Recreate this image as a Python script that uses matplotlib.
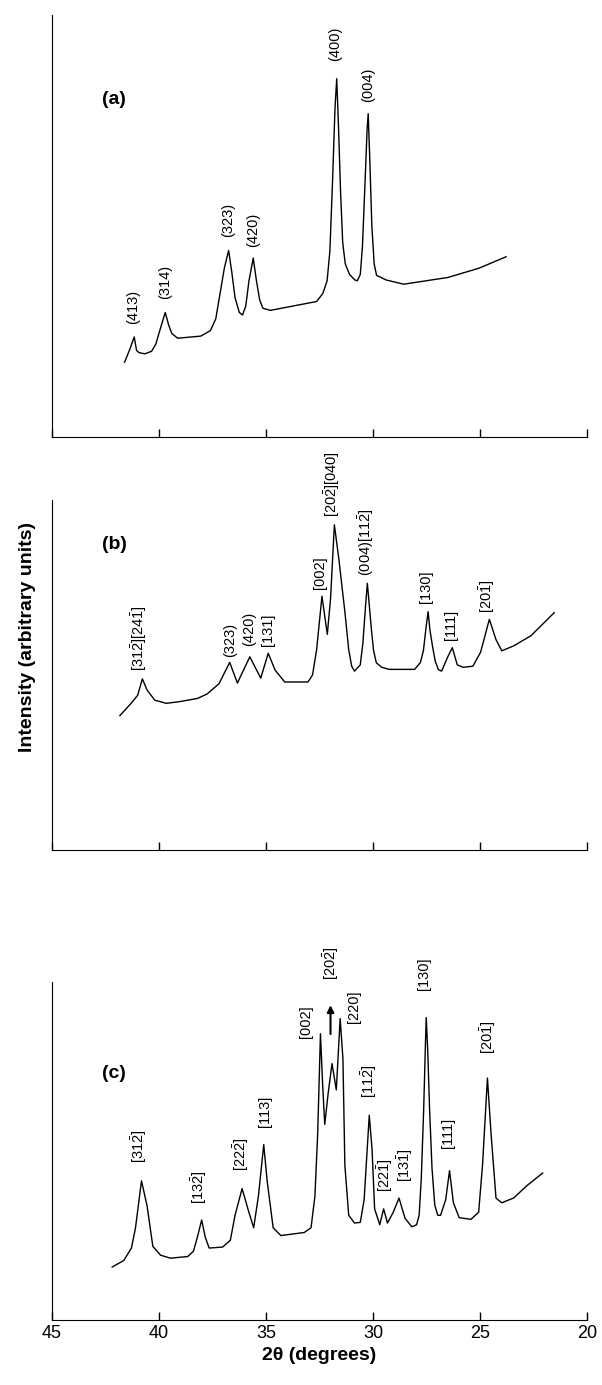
import matplotlib.pyplot as plt

plt.rcParams['font.family'] = ['Liberation Sans', 'DejaVu Sans']
plt.rcParams['mathtext.fontset'] = 'custom'
plt.rcParams['mathtext.rm'] = 'Liberation Sans'
plt.rcParams['mathtext.default'] = 'regular'

# --- panel (a) : trace (2theta, relative intensity)
tt_a = [41.61, 41.35, 41.16, 41.05, 40.94, 40.67, 40.35, 40.15, 39.95, 39.71, 39.55,
        39.40, 39.13, 38.05, 37.60, 37.35, 37.15, 36.95, 36.75, 36.60, 36.45, 36.25,
        36.10, 35.95, 35.80, 35.60, 35.45, 35.30, 35.15, 34.80, 32.64, 32.35, 32.15,
        32.02, 31.90, 31.78, 31.70, 31.62, 31.52, 31.42, 31.30, 31.10, 30.85, 30.74,
        30.60, 30.50, 30.38, 30.28, 30.23, 30.15, 30.06, 29.95, 29.84, 29.39, 28.57,
        26.50, 25.05, 23.79]
int_a = [0.177, 0.210, 0.237, 0.205, 0.200, 0.197, 0.203, 0.220, 0.255, 0.295, 0.265,
         0.245, 0.234, 0.239, 0.252, 0.280, 0.340, 0.400, 0.442, 0.390, 0.330, 0.295,
         0.289, 0.310, 0.370, 0.424, 0.370, 0.325, 0.305, 0.300, 0.321, 0.340, 0.370,
         0.440, 0.600, 0.780, 0.849, 0.740, 0.580, 0.460, 0.410, 0.385, 0.372, 0.370,
         0.385, 0.450, 0.600, 0.730, 0.766, 0.650, 0.500, 0.410, 0.383, 0.372, 0.362,
         0.378, 0.400, 0.427]
lab_a = ['(413)', '(314)', '(323)', '(420)', '(400)', '(004)']
lab_a_x = [41.21, 39.71, 36.79, 35.61, 31.77, 30.25]
lab_a_y = [0.257, 0.317, 0.463, 0.440, 0.881, 0.784]

# --- panel (b)
tt_b = [41.83, 41.29, 41.00, 40.78, 40.56, 40.20, 39.66, 39.02, 38.20, 37.75, 37.20,
        36.70, 36.34, 35.76, 35.25, 34.90, 34.58, 34.13, 33.04, 32.83, 32.64, 32.39,
        32.14, 31.99, 31.81, 31.59, 31.45, 31.32, 31.14, 31.00, 30.87, 30.60, 30.48,
        30.35, 30.27, 30.18, 30.08, 29.98, 29.85, 29.60, 29.24, 28.06, 27.79, 27.65,
        27.52, 27.43, 27.35, 27.22, 27.10, 26.95, 26.80, 26.52, 26.30, 26.07, 25.80,
        25.34, 24.98, 24.57, 24.26, 23.99, 23.44, 22.63, 21.54]
int_b = [0.384, 0.420, 0.442, 0.489, 0.457, 0.428, 0.419, 0.424, 0.433, 0.446, 0.475,
         0.536, 0.477, 0.552, 0.491, 0.562, 0.514, 0.480, 0.480, 0.500, 0.572, 0.725,
         0.616, 0.717, 0.929, 0.826, 0.750, 0.681, 0.572, 0.525, 0.511, 0.529, 0.590,
         0.700, 0.762, 0.700, 0.630, 0.570, 0.535, 0.522, 0.516, 0.516, 0.536, 0.570,
         0.640, 0.681, 0.630, 0.580, 0.540, 0.515, 0.511, 0.551, 0.578, 0.529, 0.522,
         0.525, 0.565, 0.659, 0.601, 0.569, 0.583, 0.612, 0.678]
lab_b = [r'[31$\bar{2}$][24$\bar{1}$]', '(323)', '(420)', '[131]', '[002]',
         r'[20$\bar{2}$][040]', r'(004)[11$\bar{2}$]', '[130]', '[111]', r'[20$\bar{1}$]']
lab_b_x = [40.92, 36.70, 35.80, 34.91, 32.50, 31.92, 30.33, 27.52, 26.38, 24.67]
lab_b_y = [0.500, 0.540, 0.572, 0.572, 0.736, 0.942, 0.772, 0.696, 0.591, 0.667]

# --- panel (c)
tt_c = [42.19, 41.65, 41.29, 41.10, 40.82, 40.56, 40.29, 39.93, 39.47, 38.66, 38.39,
        38.21, 38.01, 37.84, 37.66, 37.03, 36.67, 36.45, 36.12, 35.85, 35.58, 35.36,
        35.11, 34.95, 34.67, 34.31, 33.22, 32.90, 32.72, 32.59, 32.46, 32.36, 32.26,
        32.10, 31.92, 31.72, 31.54, 31.41, 31.32, 31.14, 30.87, 30.60, 30.42, 30.18,
        30.05, 29.93, 29.69, 29.51, 29.33, 29.06, 28.79, 28.51, 28.19, 27.97, 27.85,
        27.75, 27.64, 27.55, 27.52, 27.45, 27.36, 27.25, 27.12, 26.98, 26.85, 26.61,
        26.43, 26.25, 25.98, 25.43, 25.07, 24.89, 24.66, 24.49, 24.26, 23.99, 23.44,
        22.81, 22.08]
int_c = [0.157, 0.176, 0.213, 0.273, 0.412, 0.338, 0.218, 0.192, 0.183, 0.188, 0.204,
         0.245, 0.296, 0.245, 0.213, 0.216, 0.236, 0.310, 0.389, 0.329, 0.273, 0.366,
         0.519, 0.412, 0.273, 0.250, 0.259, 0.273, 0.366, 0.551, 0.847, 0.699, 0.579,
         0.671, 0.759, 0.681, 0.892, 0.773, 0.458, 0.310, 0.287, 0.289, 0.356, 0.606,
         0.505, 0.329, 0.282, 0.329, 0.287, 0.319, 0.361, 0.301, 0.276, 0.282, 0.310,
         0.420, 0.620, 0.830, 0.895, 0.800, 0.620, 0.450, 0.340, 0.310, 0.310, 0.356,
         0.442, 0.347, 0.303, 0.298, 0.319, 0.458, 0.716, 0.551, 0.361, 0.347, 0.361,
         0.398, 0.435]
lab_c = [r'[31$\bar{2}$]', r'[13$\bar{2}$]', r'[22$\bar{2}$]', '[113]', '[002]',
         r'[20$\bar{2}$]', '[220]', r'[11$\bar{2}$]', r'[22$\bar{1}$]', r'[13$\bar{1}$]',
         '[130]', '[111]', r'[20$\bar{1}$]']
lab_c_x = [40.92, 38.12, 36.16, 35.07, 33.13, 31.96, 30.91, 30.18, 29.46, 28.51,
           27.61, 26.49, 24.62]
lab_c_y = [0.454, 0.333, 0.431, 0.560, 0.824, 0.995, 0.870, 0.648, 0.370, 0.398,
           0.968, 0.500, 0.778]

panels = [('(a)', tt_a, int_a, lab_a, lab_a_x, lab_a_y),
          ('(b)', tt_b, int_b, lab_b, lab_b_x, lab_b_y),
          ('(c)', tt_c, int_c, lab_c, lab_c_x, lab_c_y)]

# axes boxes in figure fractions (left, bottom, width, height)
boxes = [(0.0864, 0.6845, 0.889, 0.3047),
         (0.0864, 0.3863, 0.889, 0.2527),
         (0.0864, 0.0469, 0.889, 0.2440)]
name_y = [0.80, 0.873, 0.731]

fig = plt.figure(figsize=(6.02, 13.85), dpi=100)

for i, (name, tt, inten, labs, lx, ly) in enumerate(panels):
    ax = fig.add_axes(boxes[i])
    ax.plot(tt, inten, color='black', lw=1.0)
    for txt, x, y in zip(labs, lx, ly):
        ax.text(x, y + 0.01, txt, rotation=90, ha='center', va='bottom', fontsize=10.5)
    ax.text(42.1, name_y[i], name, fontsize=14, fontweight='bold',
            ha='center', va='center')
    ax.set_xlim(45, 20)
    ax.set_ylim(0, 1)
    ax.set_xticks([45, 40, 35, 30, 25, 20])
    ax.set_yticks([])
    ax.spines['top'].set_visible(False)
    ax.spines['right'].set_visible(False)
    ax.tick_params(axis='x', direction='in', length=6, width=1, labelsize=13)
    if i < 2:
        ax.set_xticklabels([])
    else:
        ax.set_xlabel('2θ (degrees)', fontsize=14, fontweight='bold', labelpad=4)
        # small arrow above the [20-2] shoulder
        ax.annotate('', xy=(31.99, 0.94), xytext=(31.99, 0.838),
                    arrowprops=dict(arrowstyle='-|>', color='black', lw=1.5))

fig.text(0.045, 0.54, 'Intensity (arbitrary units)', rotation=90, ha='center',
         va='center', fontsize=14, fontweight='bold')

fig.savefig('out.png', dpi=100)
